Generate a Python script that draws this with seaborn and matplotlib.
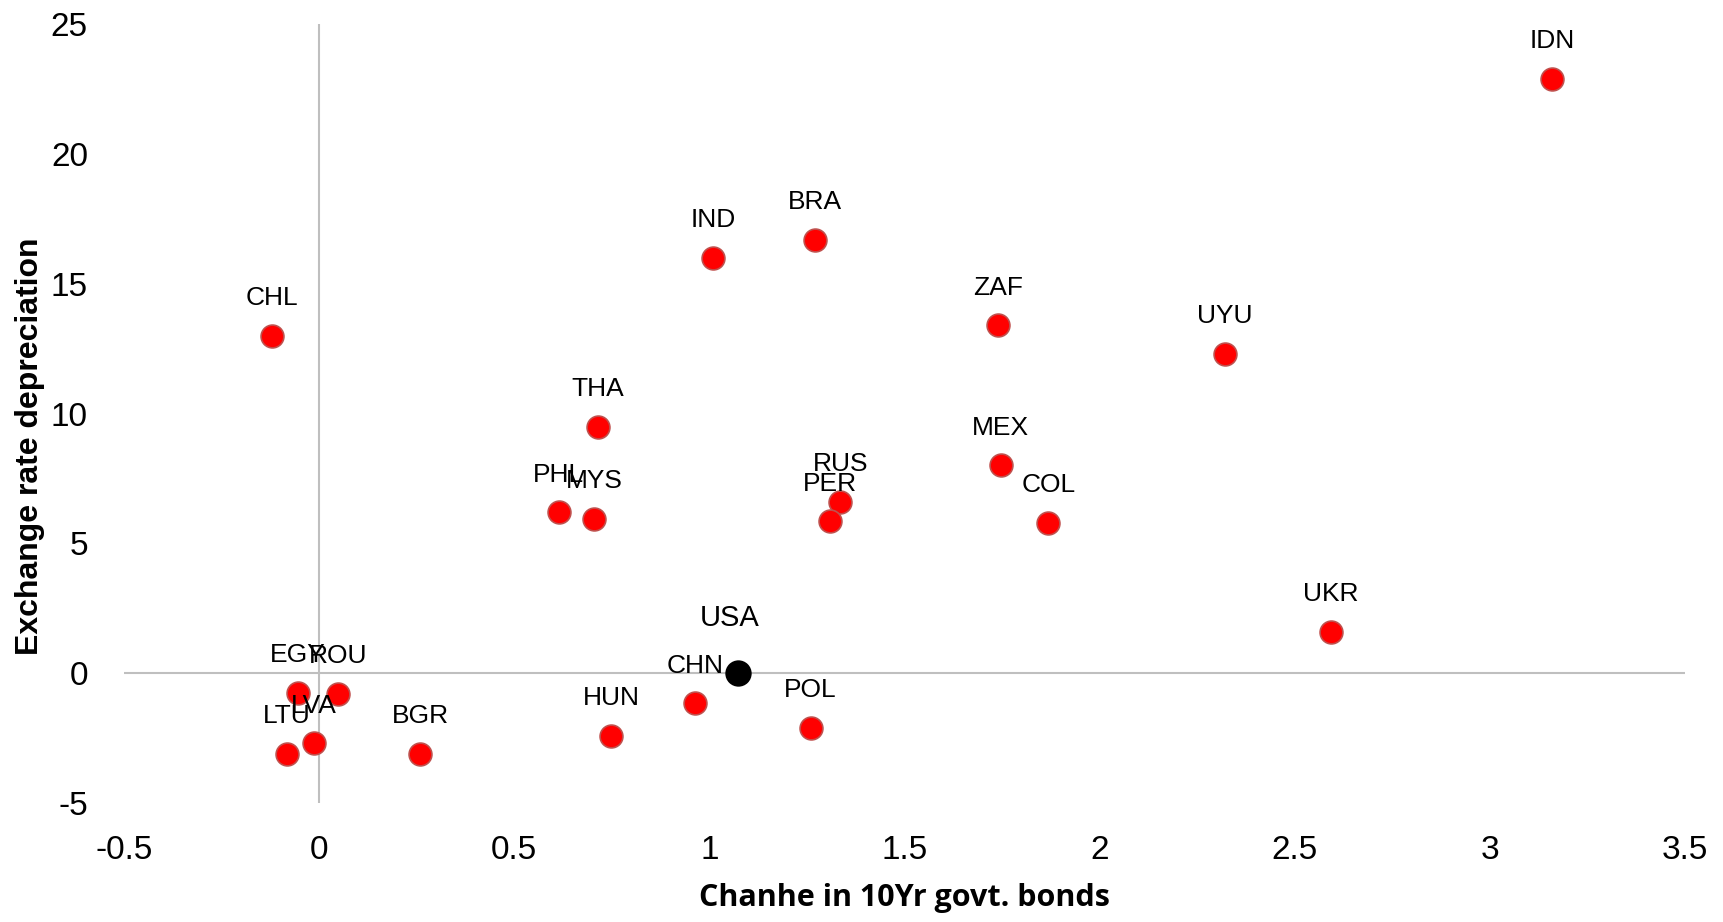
import matplotlib
matplotlib.use("Agg")
import matplotlib.pyplot as plt
import seaborn as sns
import pandas as pd

countries = ["IDN", "CHL", "IND", "BRA", "ZAF", "UYU", "THA", "MEX", "PHL", "MYS",
             "RUS", "PER", "COL", "UKR", "CHN", "POL", "HUN", "EGY", "ROU", "LTU",
             "LVA", "BGR", "USA"]
bond_change = [3.16, -0.12, 1.01, 1.27, 1.74, 2.32, 0.715, 1.746, 0.614, 0.704,
               1.335, 1.31, 1.868, 2.592, 0.963, 1.259, 0.749, -0.054, 0.048, -0.082,
               -0.014, 0.259, 1.073]
fx_depreciation = [22.9, 13.0, 16.0, 16.7, 13.4, 12.3, 9.5, 8.0, 6.2, 5.95,
                   6.6, 5.85, 5.8, 1.6, -1.15, -2.1, -2.4, -0.75, -0.8, -3.1,
                   -2.7, -3.1, 0.0]
x_ticks = [-0.5, 0, 0.5, 1, 1.5, 2, 2.5, 3, 3.5]
x_tick_labels = ["-0.5", "0", "0.5", "1", "1.5", "2", "2.5", "3", "3.5"]
y_ticks = [-5, 0, 5, 10, 15, 20, 25]
y_tick_labels = ["-5", "0", "5", "10", "15", "20", "25"]

sns.set_theme(style="white")
plt.rcParams["font.family"] = ["Liberation Sans", "DejaVu Sans"]
plt.rcParams["axes.unicode_minus"] = False

df = pd.DataFrame({"country": countries, "x": bond_change, "y": fx_depreciation})
df["group"] = ["US" if c == "USA" else "EM" for c in countries]

fig = plt.figure(figsize=(17.23, 9.22), dpi=100)
ax = fig.add_axes([0.072, 0.129, 0.906, 0.845])

# zero reference lines
ax.axhline(0, color="#BFBFBF", lw=1.5, zorder=0)
ax.axvline(0, color="#BFBFBF", lw=1.5, zorder=0)

em = df[df.group == "EM"]
us = df[df.group == "US"]
sns.scatterplot(data=em, x="x", y="y", ax=ax, color="#FF0000", s=270,
                edgecolor="#C0504D", linewidth=1.2, zorder=3)
sns.scatterplot(data=us, x="x", y="y", ax=ax, color="#000000", s=360,
                edgecolor="#000000", linewidth=0, zorder=3)

for c, xv, yv in zip(countries, bond_change, fx_depreciation):
    if c == "USA":
        ax.annotate(c, (xv, yv), xytext=(-6, 40), textcoords="offset points",
                    ha="center", va="center", fontsize=21, color="black")
    else:
        ax.annotate(c, (xv, yv), xytext=(0, 27), textcoords="offset points",
                    ha="center", va="center", fontsize=19, color="black")

ax.set_xlim(-0.5, 3.5)
ax.set_ylim(-5, 25)
ax.set_xticks(x_ticks)
ax.set_xticklabels(x_tick_labels)
ax.set_yticks(y_ticks)
ax.set_yticklabels(y_tick_labels)
ax.tick_params(axis="both", length=0, labelsize=24, colors="black")
ax.tick_params(axis="x", pad=23)
ax.tick_params(axis="y", pad=26)
for s in ax.spines.values():
    s.set_visible(False)
ax.grid(False)

ax.set_xlabel("Chanhe in 10Yr govt. bonds", fontsize=22, fontweight="bold",
              family=["Open Sans", "DejaVu Sans"], color="black")
ax.set_ylabel("Exchange rate depreciation", fontsize=23, fontweight="bold", color="black")
ax.xaxis.set_label_coords(0.5, -0.103)
ax.yaxis.set_label_coords(-0.0506, 0.458)

fig.savefig("out.png", dpi=100)
